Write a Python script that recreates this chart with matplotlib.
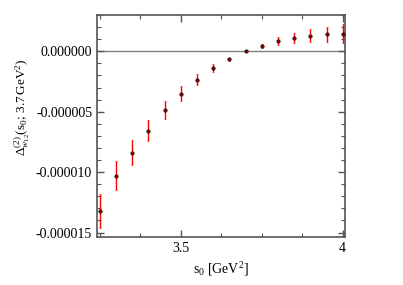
import matplotlib
matplotlib.use("Agg")
import matplotlib.pyplot as plt
from matplotlib.ticker import MultipleLocator, FuncFormatter

plt.rcParams['font.family'] = ['Liberation Serif', 'DejaVu Serif']
plt.rcParams['mathtext.fontset'] = 'custom'
plt.rcParams['mathtext.rm'] = 'Liberation Serif'
plt.rcParams['mathtext.it'] = 'Liberation Serif:italic'

# data (values in 1e-6)
s0 = [3.25, 3.30, 3.35, 3.40, 3.45, 3.50, 3.55, 3.60, 3.65, 3.70,
      3.75, 3.80, 3.85, 3.90, 3.95, 4.00]
delta = [-13.2, -10.3, -8.39, -6.56, -4.83, -3.50, -2.36, -1.39, -0.67, 0.0,
         0.44, 0.83, 1.08, 1.28, 1.39, 1.44]
err = [1.40, 1.18, 1.04, 0.89, 0.74, 0.60, 0.46, 0.32, 0.15, 0.0,
       0.15, 0.31, 0.42, 0.53, 0.65, 0.78]

y = [v * 1e-6 for v in delta]
yerr = [e * 1e-6 for e in err]

fig = plt.figure(figsize=(4.03, 2.85), dpi=100)
ax = fig.add_axes([0.2407, 0.1684, 0.6153, 0.7789])

ax.axhline(0, color='#808080', lw=1.0, zorder=1)
ax.errorbar(s0, y, yerr=yerr, fmt='o', ms=2.5, mfc='#8b0000', mec='black', mew=0.4,
            ecolor='red', elinewidth=1.0, capsize=1.0, capthick=0.6, zorder=3)

ax.set_xlim(3.241, 4.007)
ax.set_ylim(-1.537e-5, 3.0e-6)
ax.xaxis.set_major_locator(MultipleLocator(0.5))
ax.xaxis.set_minor_locator(MultipleLocator(0.125))
ax.yaxis.set_major_locator(MultipleLocator(5e-6))
ax.yaxis.set_minor_locator(MultipleLocator(1e-6))
ax.xaxis.set_major_formatter(FuncFormatter(lambda v, p: ('%g' % v)))
ax.yaxis.set_major_formatter(FuncFormatter(lambda v, p: ('%.6f' % v).replace('-0.000000', '0.000000')))

for sp in ax.spines.values():
    sp.set_color('#555555')
    sp.set_linewidth(1.2)
ax.tick_params(which='both', direction='in', top=True, right=True, colors='#555555',
               labelcolor='black', labelsize=10)
ax.tick_params(which='major', length=5, width=1.0)
ax.tick_params(which='minor', length=3, width=0.8)

ax.set_xlabel(r'$\mathrm{s}_0$ [GeV$^2$]', fontsize=10)
ax.set_ylabel(r'$\Delta^{(2)}_{w_{12}}(\mathrm{s}_0;\,3.7\,\mathrm{GeV}^2)$', fontsize=9.5)
ax.yaxis.set_label_coords(-0.262, 0.585)

fig.savefig('out.png', dpi=100)
